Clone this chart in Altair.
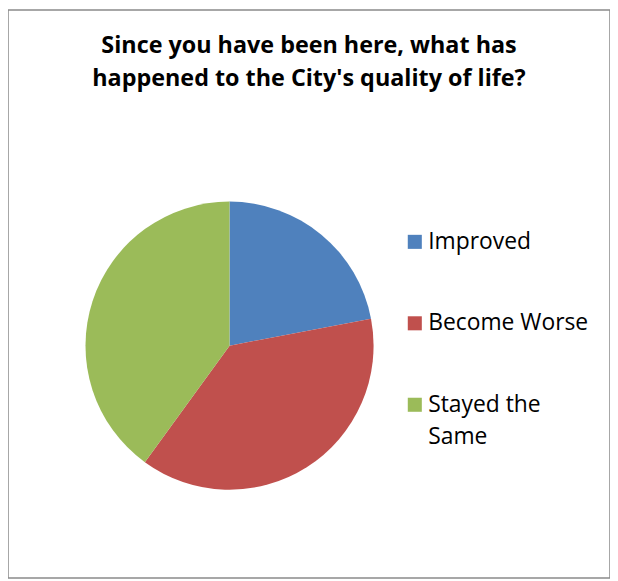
import altair as alt
import pandas as pd

categories = ["Improved", "Become Worse", "Stayed the Same"]
values = [22, 38, 40]
colors = ["#4F81BD", "#C0504D", "#9BBB59"]

df = pd.DataFrame({"answer": categories, "share": values, "order": [0, 1, 2]})

chart = alt.Chart(df).mark_arc(radius=145, stroke=None).encode(
    theta=alt.Theta("share:Q", stack=True),
    order=alt.Order("order:Q"),
    x=alt.value(223),
    y=alt.value(338),
    color=alt.Color(
        "answer:N",
        sort=categories,
        scale=alt.Scale(domain=categories, range=colors),
        legend=alt.Legend(
            title=None,
            orient="none",
            legendX=398,
            legendY=222,
            symbolType="square",
            symbolSize=200,
            symbolStrokeWidth=0,
            labelFontSize=23,
            labelFont="Open Sans",
            labelColor="#000000",
            labelOffset=2,
            rowPadding=58,
            labelLimit=0,
            labelExpr="datum.label == 'Stayed the Same' ? ['Stayed the', 'Same'] : datum.label",
        ),
    ),
).properties(
    width=606,
    height=572,
    autosize=alt.AutoSizeParams(type="none"),
    padding=0,
    title=alt.TitleParams(
        text=["Since you have been here, what has", "happened to the City's quality of life?"],
        font="Open Sans",
        fontSize=23.5,
        fontWeight="bold",
        color="#000000",
        anchor="middle",
        orient="top",
        offset=-81,
        lineHeight=33,
    ),
).configure(
    style={"guide-label": {"lineHeight": 33}},
    view=alt.ViewConfig(stroke="#8a8a8a", strokeWidth=1.5),
)

chart.save("out.html", embed_options={"renderer": "svg", "actions": False})
